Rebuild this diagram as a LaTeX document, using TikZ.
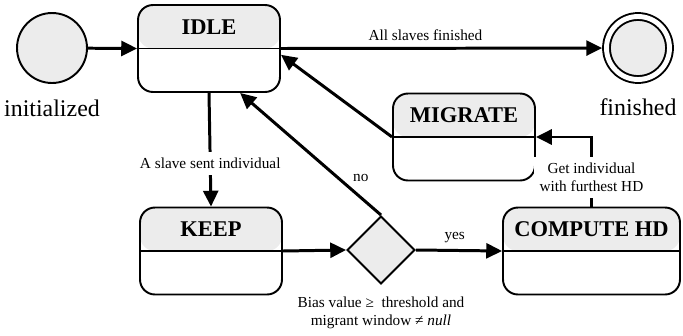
\documentclass[tikz,border=0pt]{standalone}
\usepackage{fontspec}
\setmainfont{Liberation Serif}
\usetikzlibrary{arrows.meta,shapes.geometric,positioning}
\definecolor{stategray}{RGB}{236,236,236}

\tikzset{
  state/.style={draw, line width=1.1pt, rounded corners=8.5pt, minimum width=2.84cm, minimum height=1.74cm,
    inner sep=0pt, text height=0.58cm, text depth=1.16cm, font=\fontsize{12.8}{14}\selectfont\bfseries,
    path picture={\fill[stategray] (path picture bounding box.north west) rectangle (path picture bounding box.east);
      \draw[line width=1.1pt] (path picture bounding box.west) -- (path picture bounding box.east);}},
  endpt/.style={circle, draw, line width=1.1pt, fill=stategray, inner sep=0pt, minimum size=1.4cm},
  decision/.style={diamond, draw, line width=1.1pt, fill=stategray, inner sep=0pt, minimum width=1.36cm, minimum height=1.36cm},
  conn/.style={line width=1.7pt, -{Triangle[length=9pt,width=8.5pt]}},
  small/.style={font=\fontsize{8.7}{10.5}\selectfont},
  big/.style={font=\fontsize{13.6}{15}\selectfont}
}

\begin{document}
\begin{tikzpicture}[x=0.02cm,y=-0.02cm]
  \useasboundingbox (0,0) rectangle (683,335);
  \node[endpt, label={[big, label distance=5.5pt]below:initialized}] (init) at (52,48) {};
  \node[endpt, minimum size=1.26cm, double, double distance=2.8pt, outer sep=2.5pt, label={[big, label distance=5pt]below:finished}] (fin) at (638,48) {};
  \node[state] (idle) at (209,48.5) {IDLE}; \node[state] (migrate) at (464,137) {MIGRATE};
  \node[state] (keep) at (211,251) {KEEP}; \node[state, minimum width=3.54cm] (compute) at (591.5,251) {COMPUTE HD};
  \node[decision] (dia) at (381,250) {};
  \node[small, align=center, below=3pt of dia] (cond) {Bias value ≥ ~threshold and\\migrant window ≠ \textit{null}};

  \draw[conn] (init) -- (idle.west);
  \draw[conn] (idle.east) -- (fin) node[small, pos=0.45, above]{All slaves finished};
  \draw[conn] (idle.south) -- (keep.north) node[small, pos=0.62, fill=white]{A slave sent individual};
  \draw[conn] (keep.east) -- (dia.west); \draw[conn] (dia.east) -- (compute.west) node[small, pos=0.45, above]{yes};
  \draw[conn] (dia.north) -- (idle.-55) node[small, pos=0.3, right=4pt]{no};
  \draw[conn] (migrate.west) -- (idle.-5);
  \draw[conn] (compute.north) |- (migrate.east) node[small, pos=0.21, fill=white, align=center]{Get individual\\with furthest HD};
\end{tikzpicture}
\end{document}
